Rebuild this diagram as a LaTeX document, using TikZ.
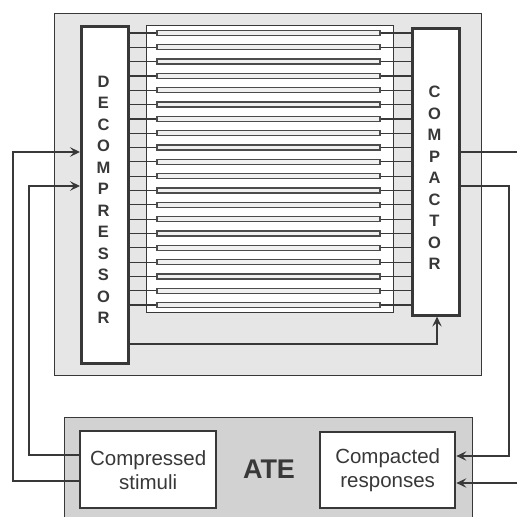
\documentclass[tikz,border=0pt]{standalone}
\usepackage{fontspec}
\setmainfont{Liberation Sans}
\usetikzlibrary{arrows.meta}
\definecolor{ink}{HTML}{383838}
\definecolor{chipfill}{HTML}{E6E6E6}
\definecolor{atefill}{HTML}{D2D2D2}
\begin{document}
\begin{tikzpicture}[x=1pt,y=-1pt,
  chipbox/.style={draw=ink,line width=1.4pt,fill=chipfill,anchor=north west,inner sep=0pt},
  atebox/.style={draw=ink,line width=1.4pt,fill=atefill,anchor=north west,inner sep=0pt},
  blockbox/.style={draw=ink,line width=2.6pt,fill=white,anchor=north west,inner sep=0pt},
  innerbox/.style={draw=ink,line width=1pt,fill=white,anchor=north west,inner sep=0pt},
  chain/.style={draw=ink!90,line width=1.3pt,fill=gray!12,minimum width=223pt,minimum height=5pt,inner sep=0pt},
  wire/.style={draw=ink,line width=1.2pt},
  arr/.style={-{Stealth[length=10pt,width=9.5pt,inset=4pt]}},
  vlet/.style={font=\bfseries\fontsize{16.5}{21.5}\selectfont,align=center,text=ink},
  lab/.style={font=\fontsize{20.5}{24}\selectfont,align=center,text=ink}
]
\clip (0,0) rectangle (517,517);
\fill[white] (0,0) rectangle (517,517);
% chip
\node[chipbox,minimum width=427pt,minimum height=362pt] (chip) at (54,13) {};
\node[innerbox,minimum width=247pt,minimum height=287pt] (inner) at (146,25) {};
\node[blockbox,minimum width=47pt,minimum height=337pt] (dec) at (80,25) {};
\node[blockbox,minimum width=47pt,minimum height=287pt] (comp) at (411,27) {};
\node[vlet] (dectxt) at (103.5,200) {D\\E\\C\\O\\M\\P\\R\\E\\S\\S\\O\\R};
\node[vlet] (comptxt) at (434.5,178) {C\\O\\M\\P\\A\\C\\T\\O\\R};
% scan chains
\foreach \i in {0,...,19}{
  \pgfmathsetmacro{\yy}{33+\i*14.32}
  \node[chain] (bar\i) at (268.5,\yy) {};
  \draw[wire] (dec.east|-bar\i.west) -- (bar\i.west);
  \draw[wire] (bar\i.east) -- (comp.west|-bar\i.east);
}
\draw[wire,arr] (dec.east|-0,344) -- (437,344) -- (437,0|-comp.south);
% ATE
\node[atebox,minimum width=408pt,minimum height=130pt] (ate) at (64,417) {};
\node[blockbox,line width=2.4pt,minimum width=136pt,minimum height=77pt] (stim) at (79,430) {};
\node[blockbox,line width=2.4pt,minimum width=135pt,minimum height=76pt] (resp) at (319,431) {};
\node[lab] (stimtxt) at (stim.center) {Compressed\\stimuli};
\node[lab] (resptxt) at (resp.center) {Compacted\\responses};
\node[font=\bfseries\fontsize{27}{30}\selectfont,text=ink] (atetxt) at (269,469) {ATE};
% connections
\draw[wire,arr] (stim.west|-0,481) -- (13,481) -- (13,152) -- (dec.west|-0,152);
\draw[wire,arr] (stim.west|-0,455) -- (29,455) -- (29,186) -- (dec.west|-0,186);
\coordinate (outA) at (522,152);
\coordinate (inB) at (522,483);
\draw[wire] (comp.east|-outA) -- (outA);
\draw[wire,arr] (comp.east|-0,186) -- (509,186) -- (509,456) -- (resp.east|-0,456);
\draw[wire,arr] (inB) -- (resp.east|-inB);
\end{tikzpicture}
\end{document}
